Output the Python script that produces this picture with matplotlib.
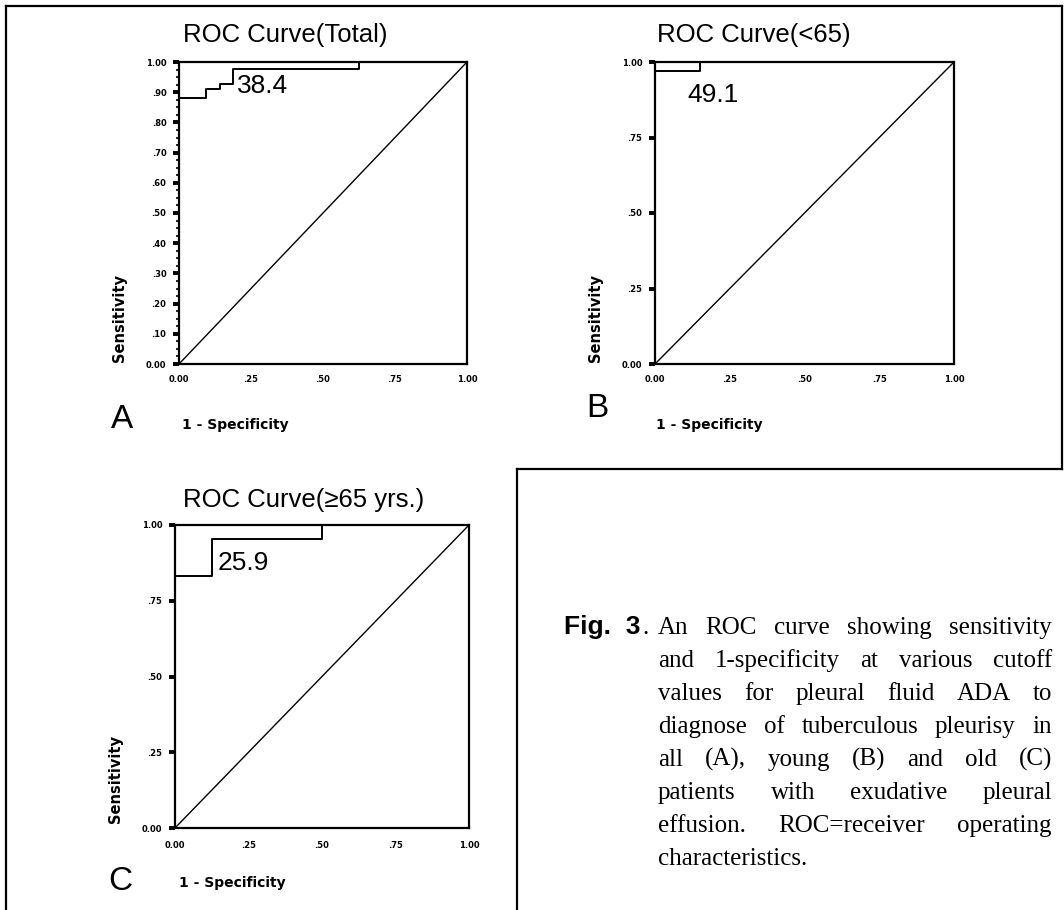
"""
Three ROC curves for pleural fluid ADA (total, <65, >=65 yrs) plus figure caption.
Output: out.png (1064 x 910 px)
"""

import matplotlib
matplotlib.use("Agg")
import matplotlib.pyplot as plt
from matplotlib.lines import Line2D


W, H = 1064, 910
OUTPUT_FIGURE = "out.png"

# ROC step curves: 1 - specificity vs sensitivity
fpr_total = [0.0, 0.0, 0.094, 0.094, 0.141, 0.141, 0.188, 0.188, 0.624, 0.624, 1.0]
tpr_total = [0.0, 0.881, 0.881, 0.911, 0.911, 0.927, 0.927, 0.978, 0.978, 1.0, 1.0]

fpr_young = [0.0, 0.0, 0.15, 0.15, 1.0]
tpr_young = [0.0, 0.969, 0.969, 1.0, 1.0]

fpr_old = [0.0, 0.0, 0.126, 0.126, 0.50, 0.50, 1.0]
tpr_old = [0.0, 0.831, 0.831, 0.954, 0.954, 1.0, 1.0]

diagonal = [0.0, 1.0]

titles = ["ROC Curve(Total)", "ROC Curve(<65)", "ROC Curve(\u226565 yrs.)"]
cutoffs = ["38.4", "49.1", "25.9"]
letters = ["A", "B", "C"]

x_ticks = [0.0, 0.25, 0.50, 0.75, 1.0]
x_ticklabels = ["0.00", ".25", ".50", ".75", "1.00"]

y_ticks_total = [0.0, 0.1, 0.2, 0.3, 0.4, 0.5, 0.6, 0.7, 0.8, 0.9, 1.0]
y_ticklabels_total = ["0.00", ".10", ".20", ".30", ".40", ".50",
                      ".60", ".70", ".80", ".90", "1.00"]
y_ticks_sub = [0.0, 0.25, 0.50, 0.75, 1.0]
y_ticklabels_sub = ["0.00", ".25", ".50", ".75", "1.00"]

caption_lines = [
    "An ROC curve showing sensitivity",
    "and 1-specificity at various cutoff",
    "values for pleural fluid ADA to",
    "diagnose of tuberculous pleurisy in",
    "all (A), young (B) and old (C)",
    "patients with exudative pleural",
    "effusion. ROC=receiver operating",
    "characteristics.",
]

SANS = ["Liberation Sans", "DejaVu Sans"]


def fx(px):
    return px / W


def fy(py):
    return 1 - py / H


def main():
    fig = plt.figure(figsize=(W / 100, H / 100), dpi=100)
    fig.patch.set_facecolor("white")

    # panel layout in pixels (left, right, top, bottom of axes) and text anchors
    panels = [
        dict(box=(179, 467, 62, 364), fpr=fpr_total, tpr=tpr_total,
             yt=y_ticks_total, yl=y_ticklabels_total, minor=True,
             title_xy=(285, 35), cut_xy=(237, 86), letter_xy=(111, 420),
             xlab_xy=(182, 425), ylab_xy=(120, 362), xpad=8),
        dict(box=(655, 954, 62, 364), fpr=fpr_young, tpr=tpr_young,
             yt=y_ticks_sub, yl=y_ticklabels_sub, minor=False,
             title_xy=(754, 35), cut_xy=(687, 95), letter_xy=(586, 409),
             xlab_xy=(656, 425), ylab_xy=(595, 362), xpad=8),
        dict(box=(175, 469, 525, 828), fpr=fpr_old, tpr=tpr_old,
             yt=y_ticks_sub, yl=y_ticklabels_sub, minor=False,
             title_xy=(304, 500), cut_xy=(218, 563), letter_xy=(108, 882),
             xlab_xy=(179, 883), ylab_xy=(115, 823), xpad=9),
    ]

    for i, p in enumerate(panels):
        l, r, t, b = p["box"]
        ax = fig.add_axes([fx(l), fy(b), (r - l) / W, (b - t) / H])
        ax.plot(p["fpr"], p["tpr"], color="black", lw=1.4, clip_on=False)
        ax.plot(diagonal, diagonal, color="black", lw=1.0)
        ax.set_xlim(0, 1)
        ax.set_ylim(0, 1)
        for s in ax.spines.values():
            s.set_linewidth(1.6)

        ax.set_xticks(x_ticks, x_ticklabels, fontsize=6, fontweight="bold")
        ax.set_yticks(p["yt"], p["yl"], fontsize=6, fontweight="bold")
        ax.tick_params(axis="x", length=0, pad=p["xpad"])
        ax.tick_params(axis="y", direction="out", length=4, width=2.8, pad=5)
        if p["minor"]:
            ax.set_yticks([k * 0.025 for k in range(41)], minor=True)
            ax.tick_params(axis="y", which="minor", direction="out",
                           length=2, width=1.2)

        tx, ty = p["title_xy"]
        fig.text(fx(tx), fy(ty), titles[i], ha="center", va="center",
                 fontsize=18.5, family=SANS)
        cx, cy = p["cut_xy"]
        fig.text(fx(cx), fy(cy), cutoffs[i], ha="left", va="center",
                 fontsize=19, family=SANS)
        lx, ly = p["letter_xy"]
        fig.text(fx(lx), fy(ly), letters[i], ha="left", va="center",
                 fontsize=24, family=SANS)
        xx, xy = p["xlab_xy"]
        fig.text(fx(xx), fy(xy), "1 - Specificity", ha="left", va="center",
                 fontsize=10, fontweight="bold", family="DejaVu Sans")
        yx, yy = p["ylab_xy"]
        fig.text(fx(yx), fy(yy), "Sensitivity", ha="center", va="bottom",
                 rotation=90, fontsize=10.5, fontweight="bold",
                 family="DejaVu Sans")

    # outer frame and caption box
    frame = [
        ((6, 1062), (6, 6)),
        ((6, 6), (6, 910)),
        ((1062, 1062), (6, 469)),
        ((517, 1062), (469, 469)),
        ((517, 517), (469, 910)),
    ]
    for xs, ys in frame:
        fig.add_artist(Line2D([fx(v) for v in xs], [fy(v) for v in ys],
                              transform=fig.transFigure, color="black", lw=1.6))

    # caption, justified like the journal layout
    fig.text(fx(641), fy(634), "Fig.  3", ha="right", va="baseline",
             fontsize=19, fontweight="bold", family=SANS)
    fig.text(fx(642), fy(634), ".", ha="left", va="baseline",
             fontsize=18, family="Liberation Serif")

    renderer = fig.canvas.get_renderer()
    left, right = 658, 1052
    for i, line in enumerate(caption_lines):
        base = 634 + 33 * i
        words = line.split()
        texts = [fig.text(0, fy(base), w, ha="left", va="baseline",
                          fontsize=18, family="Liberation Serif") for w in words]
        widths = [tt.get_window_extent(renderer).width for tt in texts]
        if i == len(caption_lines) - 1 or len(words) == 1:
            gap = 6
        else:
            gap = (right - left - sum(widths)) / (len(words) - 1)
        x = left
        for tt, w in zip(texts, widths):
            tt.set_x(fx(x))
            x += w + gap

    fig.savefig(OUTPUT_FIGURE, dpi=100)
    plt.close(fig)
    print("Saved figure:", OUTPUT_FIGURE)


if __name__ == "__main__":
    main()
